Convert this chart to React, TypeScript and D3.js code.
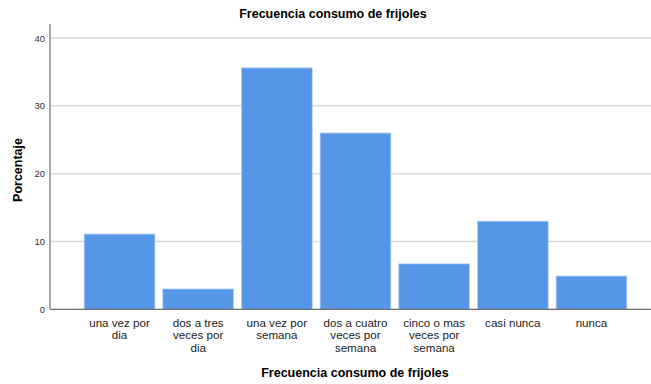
import React from "react";
import * as d3 from "d3";

const categories: string[][] = [
  ["una vez por", "dia"],
  ["dos a tres", "veces por", "dia"],
  ["una vez por", "semana"],
  ["dos a cuatro", "veces por", "semana"],
  ["cinco o mas", "veces por", "semana"],
  ["casi nunca"],
  ["nunca"],
];
const values: number[] = [11.1, 3.0, 35.6, 26.0, 6.7, 13.0, 4.9];
const yTicks: number[] = [0, 10, 20, 30, 40];
const title = "Frecuencia consumo de frijoles";
const xTitle = "Frecuencia consumo de frijoles";
const yTitle = "Porcentaje";

export default function App() {
  const W = 651;
  const H = 384;
  const axisX = 50;
  const y = d3.scaleLinear().domain([0, 40]).range([309.3, 38]);
  const x = d3
    .scaleBand<number>()
    .domain(d3.range(values.length))
    .range([80.2, 630.8])
    .paddingInner(0.1)
    .paddingOuter(0.05);
  const font = "'Liberation Sans', Arial, sans-serif";
  return (
    <svg
      width={W}
      height={H}
      style={{ position: "absolute", left: 0, top: 0, background: "#fff" }}
      fontFamily={font}
    >
      <text x={333} y={18} textAnchor="middle" fontSize={12.5} fontWeight="bold" fill="#000">
        {title}
      </text>
      {yTicks.map((t) =>
        t === 0 ? null : (
          <line key={"g" + t} x1={axisX} x2={W} y1={y(t)} y2={y(t)} stroke="#d9d9d9" strokeWidth={1.5} />
        )
      )}
      {yTicks.map((t) => (
        <text key={"t" + t} x={45} y={y(t) + 3.5} textAnchor="end" fontSize={9.5} fill="#333">
          {t}
        </text>
      ))}
      {values.map((v, i) => (
        <rect
          key={i}
          x={x(i)}
          y={y(v)}
          width={x.bandwidth()}
          height={y(0) - y(v)}
          fill="#5596e6"
          stroke="#b8d3f5"
          strokeWidth={0.8}
        />
      ))}
      <line x1={axisX} x2={W} y1={y(0)} y2={y(0)} stroke="#6b6b6b" strokeWidth={1.2} />
      <line x1={axisX} x2={axisX} y1={24} y2={y(0)} stroke="#a6a6a6" strokeWidth={2} />
      {categories.map((lines, i) => (
        <text
          key={"c" + i}
          x={(x(i) as number) + x.bandwidth() / 2}
          y={327}
          textAnchor="middle"
          fontSize={11.6}
          fill="#222"
        >
          {lines.map((l, j) => (
            <tspan key={j} x={(x(i) as number) + x.bandwidth() / 2} dy={j === 0 ? 0 : 12.3}>
              {l}
            </tspan>
          ))}
        </text>
      ))}
      <text x={355} y={377} textAnchor="middle" fontSize={12.5} fontWeight="bold" fill="#000">
        {xTitle}
      </text>
      <text
        transform={`translate(22,170) rotate(-90)`}
        textAnchor="middle"
        fontSize={12.5}
        fontWeight="bold"
        fill="#000"
      >
        {yTitle}
      </text>
    </svg>
  );
}
